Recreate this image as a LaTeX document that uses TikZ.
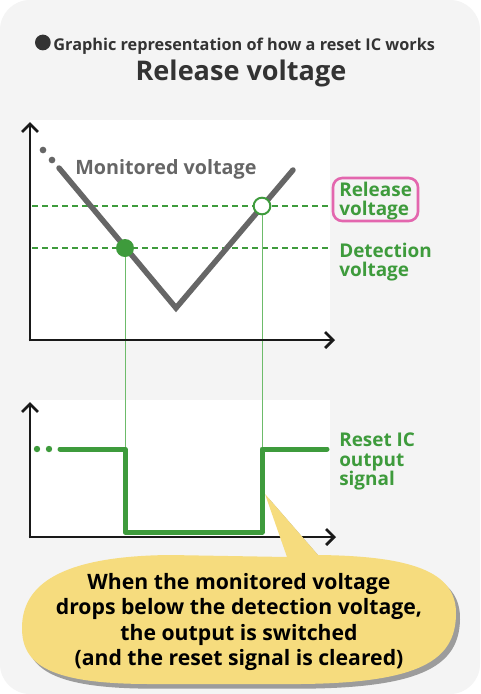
\documentclass[tikz,border=0pt]{standalone}
\usepackage{fontspec}
\setmainfont{Open Sans}
\usetikzlibrary{arrows.meta}
\definecolor{bggrey}{HTML}{F4F4F4}
\definecolor{ggreen}{HTML}{3E9B3C}
\definecolor{lgreen}{HTML}{6DBB6A}
\definecolor{lgrey}{HTML}{666666}
\definecolor{pinkc}{HTML}{E366AE}
\definecolor{yellowc}{HTML}{F6DC7E}
\definecolor{shadowc}{HTML}{9C9C9C}
\definecolor{darktext}{HTML}{333333}
\tikzset{
  axis/.style={line width=2.6pt*0.75, draw=black!90, -{Straight Barb[length=6pt,width=12pt,line width=2pt]}},
  vline/.style={line width=5.5pt*0.75, lgrey, line cap=round},
  sig/.style={line width=5pt*0.75, ggreen, line join=round},
  dashline/.style={line width=1.6pt*0.75, ggreen, dash pattern=on 4.5pt off 3pt},
  thinline/.style={line width=1pt*0.75, lgreen},
  glabel/.style={text=ggreen, font=\bfseries\fontsize{14.2}{14.4}\selectfont, align=left, anchor=north west, inner sep=0pt},
  panel/.style={fill=white, draw=none}
}
\begin{document}
\begin{tikzpicture}[x=0.75pt,y=-0.75pt]
\useasboundingbox (0,0) rectangle (480,694);
\fill[white] (0,0) rectangle (480,694);
\fill[bggrey, rounded corners=22.5pt] (0,0) rectangle (480,694);
% titles
\node[font=\bfseries\fontsize{12.2}{14}\selectfont, text=darktext, inner sep=0pt, anchor=base] (t1) at (235,50) {\raisebox{-0.02em}{\tikz\fill[darktext] (0,0) circle (5.9pt);}\,Graphic representation of how a reset IC works};
\node[font=\bfseries\fontsize{20.3}{22}\selectfont, text=darktext, inner sep=0pt, anchor=base] (t2) at (241,80) {Release voltage};
% panels
\fill[panel] (30,120) rectangle (330,340);
\fill[panel] (30,400) rectangle (330,537);
% dashed lines
\draw[dashline] (32,206) -- (330,206);
\draw[dashline] (32,248) -- (330,248);
% monitored voltage
\fill[lgrey] (43,150) circle (2.5pt);
\fill[lgrey] (52,160) circle (2.5pt);
\draw[vline] (59,168) -- (176,308) -- (293,170);
\node[font=\bfseries\fontsize{14.8}{16}\selectfont, text=lgrey, anchor=base west, inner sep=0pt] (mv) at (75,174) {Monitored voltage};
% points
\node[circle, fill=ggreen, minimum size=13.5pt, inner sep=0pt] (det) at (125,248) {};
\node[circle, fill=white, draw=ggreen, line width=1.5pt, minimum size=12.5pt, inner sep=0pt] (rel) at (262,206) {};
\coordinate (detb) at (125,449);
\coordinate (relb) at (262,449);
\draw[thinline] (det.south) -- (detb);
\draw[thinline] (rel.south) -- (relb);
% axes
\coordinate (o1) at (30,340);
\draw[axis] ([yshift=-1pt]o1) -- (30,122);
\draw[axis] ([xshift=-1pt]o1) -- (335,340);
\coordinate (o2) at (30,537);
\draw[axis] ([yshift=-1pt]o2) -- (30,402);
\draw[axis] ([xshift=-1pt]o2) -- (336,537);
% signal
\fill[ggreen] (37,449) circle (2.4pt);
\fill[ggreen] (49,449) circle (2.4pt);
\draw[sig, line cap=round] (60,449) -- (125,449) -- (125,532) -- (262,532) -- (262,449) -- (327,449);
% labels
\node[glabel] (rl) at (339,182) {Release\\voltage};
\draw[pinkc, line width=2.6pt*0.75, rounded corners=7pt] (333,178) rectangle (418,221);
\node[glabel] (dl) at (339,243) {Detection\\voltage};
\node[glabel] (rs) at (339,433) {Reset IC\\output\\signal};
% callout
\def\blob{(170,555) -- (287,557) -- (265,494) -- (318,555) .. controls (420,556) and (457,575) .. (456,615) .. controls (455,660) and (420,683) .. (300,684) -- (150,684) .. controls (50,684) and (22,665) .. (22,628) .. controls (22,585) and (60,556) .. (170,555) -- cycle}
\fill[shadowc, xshift=3pt, yshift=-3.5pt] \blob;
\fill[yellowc] \blob;
\node[font=\bfseries\fontsize{15.9}{18.8}\selectfont, align=center, inner sep=0pt] (co) at (239,622) {When the monitored voltage\\drops below the detection voltage,\\the output is switched\\(and the reset signal is cleared)};
\end{tikzpicture}
\end{document}
